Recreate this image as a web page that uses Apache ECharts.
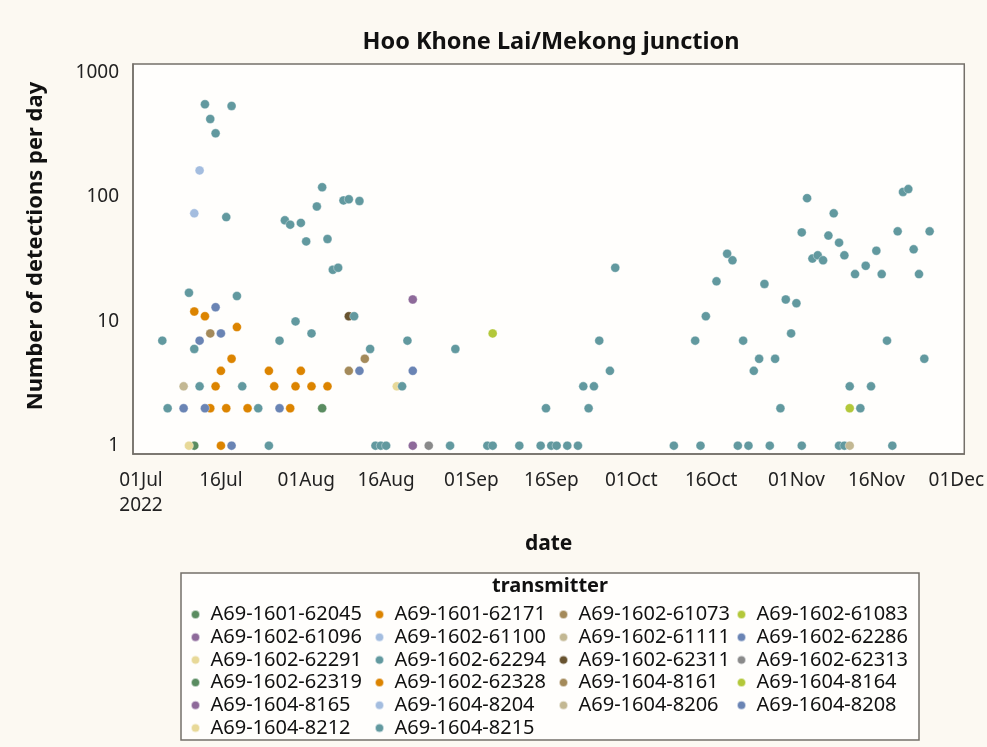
<!DOCTYPE html>
<html>
<head>
<meta charset="utf-8">
<script src="https://cdn.jsdelivr.net/npm/echarts@6/dist/echarts.min.js"></script>
<style>
  html, body { margin: 0; padding: 0; background: #fcf9f2; }
  #chart { width: 987px; height: 747px; }
</style>
</head>
<body>
<div id="chart"></div>
<script>
// transmitter ids, in legend order (row by row, 4 per row)
const transmitters = [
  'A69-1601-62045', 'A69-1601-62171', 'A69-1602-61073', 'A69-1602-61083',
  'A69-1602-61096', 'A69-1602-61100', 'A69-1602-61111', 'A69-1602-62286',
  'A69-1602-62291', 'A69-1602-62294', 'A69-1602-62311', 'A69-1602-62313',
  'A69-1602-62319', 'A69-1602-62328', 'A69-1604-8161', 'A69-1604-8164',
  'A69-1604-8165', 'A69-1604-8204', 'A69-1604-8206', 'A69-1604-8208',
  'A69-1604-8212', 'A69-1604-8215'
];

// colours cycle every 12 groups
const palette = ['#5a8c60', '#dc8400', '#a48a5a', '#b3c83a', '#8e6a9a', '#a4bddf',
  '#c3b893', '#6a84b4', '#e8d998', '#62999f', '#68532f', '#8a8a8a'];

// detections per day  [date, count]
const d62045 = [['2022-07-11', 1]];
const d62171 = [['2022-07-11', 12], ['2022-07-13', 11], ['2022-07-14', 2], ['2022-07-15', 3],
  ['2022-07-16', 4], ['2022-07-17', 2], ['2022-07-18', 5], ['2022-07-19', 9]];
const d61073 = [['2022-07-14', 8]];
const d61083 = [['2022-09-05', 8]];
const d61096 = [['2022-08-21', 15]];
const d61100 = [['2022-07-12', 164]];
const d61111 = [['2022-07-09', 3]];
const d62286 = [['2022-07-09', 2], ['2022-07-12', 7], ['2022-07-13', 2], ['2022-07-15', 13], ['2022-07-16', 8]];
const d62291 = [['2022-07-10', 1]];
const d62294 = [['2022-10-09', 1], ['2022-10-14', 1], ['2022-10-21', 1], ['2022-10-23', 1],
  ['2022-10-27', 1], ['2022-11-02', 1], ['2022-11-09', 1], ['2022-11-10', 1], ['2022-11-19', 1]];
const d62311 = [['2022-08-09', 11]];
const d62313 = [['2022-08-24', 1]];
const d62319 = [['2022-08-04', 2]];
const d62328 = [['2022-07-16', 1], ['2022-07-21', 2], ['2022-07-25', 4], ['2022-07-26', 3],
  ['2022-07-29', 2], ['2022-07-30', 3], ['2022-07-31', 4], ['2022-08-02', 3], ['2022-08-05', 3]];
const d8161 = [['2022-08-09', 4], ['2022-08-12', 5]];
const d8164 = [['2022-11-11', 2]];
const d8165 = [['2022-08-21', 1]];
const d8204 = [['2022-07-11', 74]];
const d8206 = [['2022-11-11', 1]];
const d8208 = [['2022-07-18', 1], ['2022-07-27', 2], ['2022-08-11', 4], ['2022-08-21', 4]];
const d8212 = [['2022-08-18', 3]];
const d8215 = [
  ['2022-07-05', 7], ['2022-07-06', 2], ['2022-07-10', 17], ['2022-07-11', 6], ['2022-07-12', 3],
  ['2022-07-13', 558], ['2022-07-14', 425], ['2022-07-15', 326], ['2022-07-17', 69], ['2022-07-18', 541],
  ['2022-07-19', 16], ['2022-07-20', 3], ['2022-07-23', 2], ['2022-07-25', 1], ['2022-07-27', 7],
  ['2022-07-28', 65], ['2022-07-29', 60], ['2022-07-30', 10], ['2022-07-31', 62], ['2022-08-01', 44],
  ['2022-08-02', 8], ['2022-08-03', 84], ['2022-08-04', 120], ['2022-08-05', 46], ['2022-08-06', 26],
  ['2022-08-07', 27], ['2022-08-08', 94], ['2022-08-09', 96], ['2022-08-10', 11], ['2022-08-11', 93],
  ['2022-08-13', 6], ['2022-08-14', 1], ['2022-08-15', 1], ['2022-08-16', 1], ['2022-08-19', 3],
  ['2022-08-20', 7], ['2022-08-28', 1], ['2022-08-29', 6], ['2022-09-04', 1], ['2022-09-05', 1],
  ['2022-09-10', 1], ['2022-09-14', 1], ['2022-09-15', 2], ['2022-09-16', 1], ['2022-09-17', 1],
  ['2022-09-19', 1], ['2022-09-21', 1], ['2022-09-22', 3], ['2022-09-23', 2], ['2022-09-24', 3],
  ['2022-09-25', 7], ['2022-09-27', 4], ['2022-09-28', 27], ['2022-10-13', 7], ['2022-10-15', 11],
  ['2022-10-17', 21], ['2022-10-19', 35], ['2022-10-20', 31], ['2022-10-22', 7], ['2022-10-24', 4],
  ['2022-10-25', 5], ['2022-10-26', 20], ['2022-10-28', 5], ['2022-10-29', 2], ['2022-10-30', 15],
  ['2022-10-31', 8], ['2022-11-01', 14], ['2022-11-02', 52], ['2022-11-03', 98], ['2022-11-04', 32],
  ['2022-11-05', 34], ['2022-11-06', 31], ['2022-11-07', 49], ['2022-11-08', 74], ['2022-11-09', 43],
  ['2022-11-10', 34], ['2022-11-11', 3], ['2022-11-12', 24], ['2022-11-13', 2], ['2022-11-14', 28],
  ['2022-11-15', 3], ['2022-11-16', 37], ['2022-11-17', 24], ['2022-11-18', 7], ['2022-11-20', 53],
  ['2022-11-21', 110], ['2022-11-22', 116], ['2022-11-23', 38], ['2022-11-24', 24], ['2022-11-25', 5],
  ['2022-11-26', 53]
];

const seriesData = [d62045, d62171, d61073, d61083, d61096, d61100, d61111, d62286,
  d62291, d62294, d62311, d62313, d62319, d62328, d8161, d8164,
  d8165, d8204, d8206, d8208, d8212, d8215];

// one category per day, 30 Jun .. 02 Dec 2022
const days = [];
for (let t = Date.UTC(2022, 5, 30); t <= Date.UTC(2022, 11, 2); t += 86400000) {
  days.push(new Date(t).toISOString().slice(0, 10));
}
const monthNames = ['Jan', 'Feb', 'Mar', 'Apr', 'May', 'Jun', 'Jul', 'Aug', 'Sep', 'Oct', 'Nov', 'Dec'];
const isTickDay = (i, v) => v.slice(8) === '01' || v.slice(8) === '16';

const FONT = 'Noto Sans';
const frameColor = '#74706a';

const chart = echarts.init(document.getElementById('chart'));

// legend in 4 columns
const colLeft = [190, 374, 558, 736];
const legends = colLeft.map((x, c) => ({
  orient: 'vertical',
  left: x,
  top: 604.5,
  padding: 0,
  itemWidth: 20,
  itemHeight: 9,
  itemGap: 2.7,
  icon: 'circle',
  selectedMode: false,
  itemStyle: { opacity: 1 },
  textStyle: { fontFamily: FONT, fontSize: 20, lineHeight: 18, color: '#111' },
  data: transmitters.filter((n, i) => i % 4 === c)
}));

const option = {
  backgroundColor: '#fcf9f2',
  animation: false,
  textStyle: { fontFamily: FONT },
  title: {
    text: 'Hoo Khone Lai/Mekong junction',
    left: 546,
    top: 25,
    textAlign: 'center',
    textStyle: { fontFamily: FONT, fontSize: 23.5, fontWeight: 'bold', color: '#111' }
  },
  grid: {
    left: 133, right: 21, top: 64, bottom: 293,
    show: true,
    backgroundColor: '#fffefc',
    borderColor: frameColor,
    borderWidth: 1.5
  },
  xAxis: {
    type: 'category',
    data: days,
    boundaryGap: true,
    name: 'date',
    nameLocation: 'middle',
    nameGap: 80,
    nameTextStyle: { fontFamily: FONT, fontSize: 21, fontWeight: 'bold', color: '#111' },
    axisLine: { lineStyle: { color: frameColor, width: 1.5 } },
    axisTick: { alignWithLabel: true, interval: isTickDay, length: 9, lineStyle: { color: frameColor, width: 1.5 } },
    axisLabel: {
      interval: isTickDay,
      margin: 14,
      fontSize: 19,
      color: '#222',
      lineHeight: 25,
      formatter: v => {
        const lab = v.slice(8) + monthNames[+v.slice(5, 7) - 1];
        return v === '2022-07-01' ? lab + '\n2022' : lab;
      }
    },
    splitLine: { show: false }
  },
  yAxis: {
    type: 'log',
    logBase: 10,
    min: 0.857,
    max: 1177,
    axisLine: { show: true, lineStyle: { color: frameColor, width: 1.5 } },
    axisTick: { length: 9, lineStyle: { color: frameColor, width: 1.5 } },
    axisLabel: {
      margin: 14,
      fontSize: 19,
      color: '#222',
      formatter: v => {
        const l = Math.log10(v);
        return Math.abs(l - Math.round(l)) < 1e-6 ? String(Math.round(Math.pow(10, Math.round(l)))) : '';
      }
    },
    splitLine: { show: false }
  },
  legend: legends,
  graphic: [
    {
      type: 'text',
      x: 36, y: 246,
      rotation: Math.PI / 2,
      style: {
        text: 'Number of detections per day', fontFamily: FONT, fontSize: 22, fontWeight: 'bold',
        fill: '#111', align: 'center', verticalAlign: 'middle'
      }
    },
    {
      type: 'rect',
      z: -1,
      shape: { x: 181, y: 573, width: 738, height: 167 },
      style: { fill: '#fffefc', stroke: frameColor, lineWidth: 1.5 }
    },
    {
      type: 'text',
      x: 550, y: 586,
      style: {
        text: 'transmitter', fontFamily: FONT, fontSize: 20, fontWeight: 'bold',
        fill: '#111', align: 'center', verticalAlign: 'middle'
      }
    }
  ],
  series: transmitters.map((name, i) => ({
    name: name,
    type: 'scatter',
    data: seriesData[i],
    symbol: 'circle',
    symbolSize: 9,
    itemStyle: { color: palette[i % 12], opacity: 1, borderColor: 'rgba(255,255,255,0.6)', borderWidth: 0.6 }
  }))
};

chart.setOption(option);
</script>
</body>
</html>
